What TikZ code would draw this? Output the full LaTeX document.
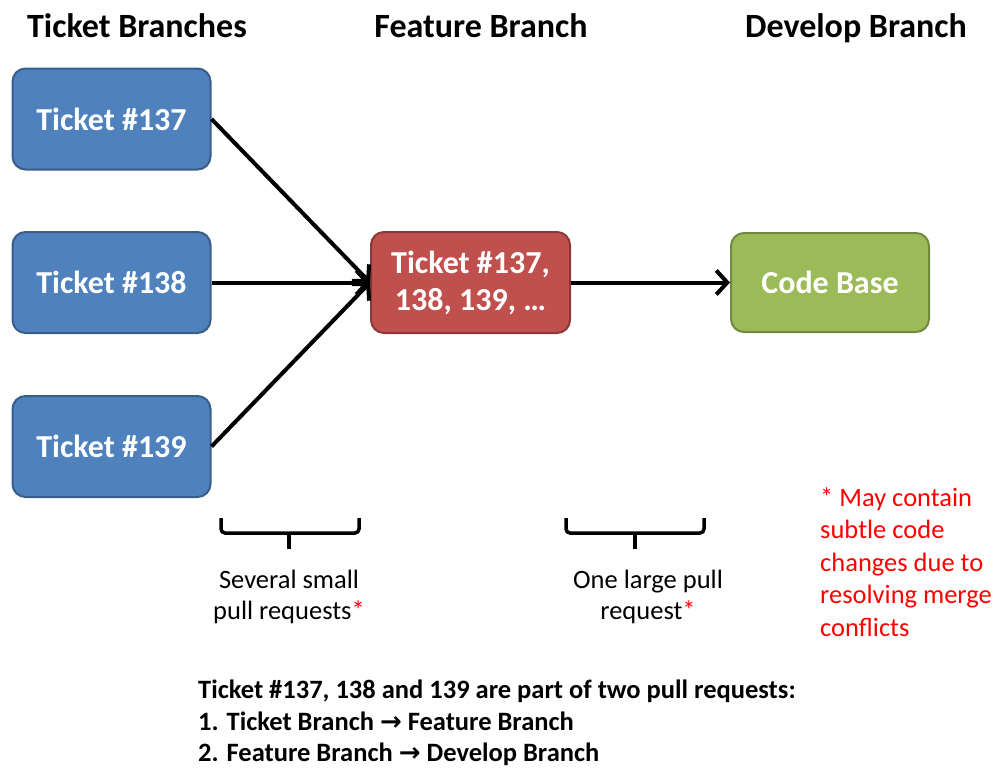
\documentclass[tikz,border=0pt]{standalone}
\usepackage{fontspec}
\setmainfont{Carlito}
\newfontfamily\symfont{DejaVu Sans}
\usetikzlibrary{arrows.meta}
\definecolor{bluefill}{HTML}{4F81BD}
\definecolor{blueline}{HTML}{385D8A}
\definecolor{redfill}{HTML}{C0504D}
\definecolor{redline}{HTML}{8C3836}
\definecolor{greenfill}{HTML}{9BBB59}
\definecolor{greenline}{HTML}{71893F}
\definecolor{notered}{HTML}{FF0000}
\tikzset{
  boxstyle/.style={rounded corners=13pt, line width=2pt, minimum width=198pt, minimum height=101pt,
    text=white, font=\fontsize{32}{37}\selectfont\bfseries, align=center, inner sep=0pt},
  tbox/.style={boxstyle, fill=bluefill, draw=blueline},
  fbox/.style={boxstyle, fill=redfill, draw=redline},
  dbox/.style={boxstyle, fill=greenfill, draw=greenline, minimum height=99pt},
  header/.style={font=\fontsize{34}{40}\selectfont\bfseries, inner sep=0pt, anchor=base},
  conn/.style={line width=4pt, -{Straight Barb[length=11pt,width=24pt,line width=4pt]}},
  bracestyle/.style={line width=3.5pt, rounded corners=4pt},
  small/.style={font=\fontsize{26.5}{31}\selectfont, align=center, inner sep=0pt},
}
\begin{document}
\begin{tikzpicture}[x=1pt,y=-1pt]
\useasboundingbox (0,0) rectangle (1003,771);
\node[header] (h1) at (137,37) {Ticket Branches};
\node[header] (h2) at (481,37) {Feature Branch};
\node[header] (h3) at (856,37) {Develop Branch};

\node[tbox] (t137) at (111.5,119) {Ticket \#137};
\node[tbox] (t138) at (111.5,282.5) {Ticket \#138};
\node[tbox] (t139) at (111.5,446.5) {Ticket \#139};
\node[fbox, minimum width=199pt] (feat) at (470.5,282.5) {Ticket \#137,\\138, 139, \ldots};
\node[dbox] (dev) at (830,282.5) {Code Base};

\draw[conn] (t137.east) -- (feat.west);
\draw[conn] (t138.east) -- (feat.west);
\draw[conn] (t139.east) -- (feat.west);
\draw[conn] (feat.east) -- (dev.west);

\coordinate (b1l) at (221,518);
\coordinate (b1m) at (289,533);
\coordinate (b1r) at (359,518);
\coordinate (b1t) at (289,549);
\draw[bracestyle] (b1l) |- (b1m) -| (b1r);
\draw[line width=3.5pt] (b1m) -- (b1t);
\coordinate (b2l) at (566,518);
\coordinate (b2m) at (635,533);
\coordinate (b2r) at (704,518);
\coordinate (b2t) at (635,549);
\draw[bracestyle] (b2l) |- (b2m) -| (b2r);
\draw[line width=3.5pt] (b2m) -- (b2t);

\node[small] (s1) at (289,597) {Several small\\pull requests\textcolor{notered}{*}};
\node[small] (s2) at (648,597) {One large pull\\request\textcolor{notered}{*}};

\node[font=\fontsize{26.5}{32.5}\selectfont, text=notered, align=left, anchor=north west, inner sep=0pt] (note) at (820,487)
  {* May contain\\subtle code\\changes due to\\resolving merge\\conflicts};

\node[font=\fontsize{26.5}{31.5}\selectfont\bfseries, align=left, anchor=north west, inner sep=0pt] (bottom) at (198,680)
  {Ticket \#137, 138 and 139 are part of two pull requests:\\
   1. Ticket Branch {\symfont\fontsize{26}{26}\selectfont →} Feature Branch\\
   2. Feature Branch {\symfont\fontsize{26}{26}\selectfont →} Develop Branch};
\end{tikzpicture}
\end{document}
